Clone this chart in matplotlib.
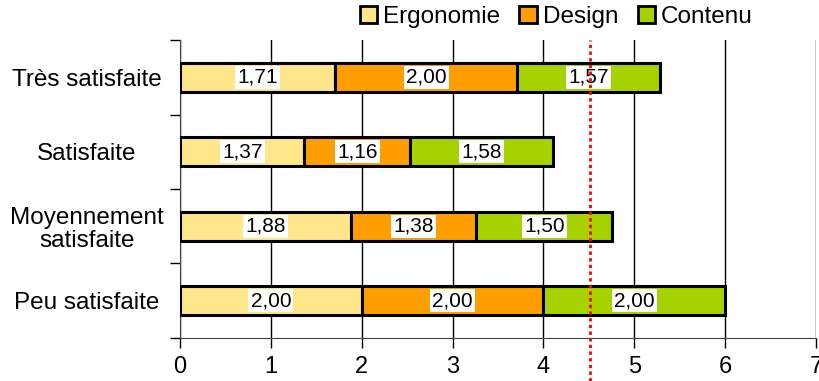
import matplotlib
matplotlib.use("Agg")
import matplotlib.pyplot as plt
import numpy as np
from matplotlib.patches import Patch

plt.rcParams['font.family'] = ['Liberation Sans', 'DejaVu Sans']

# data
categories = ["Très satisfaite", "Satisfaite", "Moyennement\nsatisfaite", "Peu satisfaite"]
series = ["Ergonomie", "Design", "Contenu"]
ergonomie = [1.71, 1.37, 1.88, 2.00]
design = [2.00, 1.16, 1.38, 2.00]
contenu = [1.57, 1.58, 1.50, 2.00]
threshold = 4.51

colors = ["#FFE68A", "#FF9E00", "#A6D200"]

fig = plt.figure(figsize=(8.19, 3.81), dpi=100)
ax = fig.add_axes([0.2198, 0.1129, 0.7765, 0.7821])

y = np.arange(len(categories))
left = np.zeros(len(categories))
for name, vals, col in zip(series, [ergonomie, design, contenu], colors):
    vals = np.array(vals)
    ax.barh(y, vals, left=left, height=0.39, color=col, edgecolor="black",
            linewidth=2.2, zorder=3, label=name)
    for yi, l, v in zip(y, left, vals):
        ax.text(l + v / 2, yi, f"{v:.2f}".replace(".", ","), ha="center", va="center",
                fontsize=15, zorder=5,
                bbox=dict(facecolor="white", edgecolor="none", pad=1.5))
    left += vals

ax.set_xlim(0, 7)
ax.set_ylim(3.5, -0.5)
ax.set_xticks(range(8))
ax.tick_params(axis="x", labelsize=17, length=7, width=1, pad=6)
ax.set_yticks(y)
ax.set_yticklabels(categories, fontsize=17.5, ha="center", linespacing=1.1)
ax.tick_params(axis="y", length=0, pad=67)
ax.set_yticks(np.arange(-0.5, 3.6, 1), minor=True)
ax.tick_params(axis="y", which="minor", length=7, width=1)
ax.grid(axis="x", color="black", linewidth=1, zorder=0)
ax.set_axisbelow(True)
for s in ["top", "right"]:
    ax.spines[s].set_visible(False)
ax.spines["left"].set_color("#444444")
ax.spines["bottom"].set_color("#444444")

ax.axvline(threshold, ymin=-0.145, ymax=1, color="red", linestyle=(0, (1.2, 1.2)),
           linewidth=2, clip_on=False, zorder=6)

handles = [Patch(facecolor=c, edgecolor="black", linewidth=2, label=n)
           for n, c in zip(series, colors)]
fig.legend(handles=handles, loc="center", bbox_to_anchor=(0.679, 0.955), ncol=3,
           frameon=False, fontsize=17.5, handlelength=0.7, handleheight=0.7,
           handletextpad=0.25, columnspacing=0.8)

fig.savefig("out.png", dpi=100)
